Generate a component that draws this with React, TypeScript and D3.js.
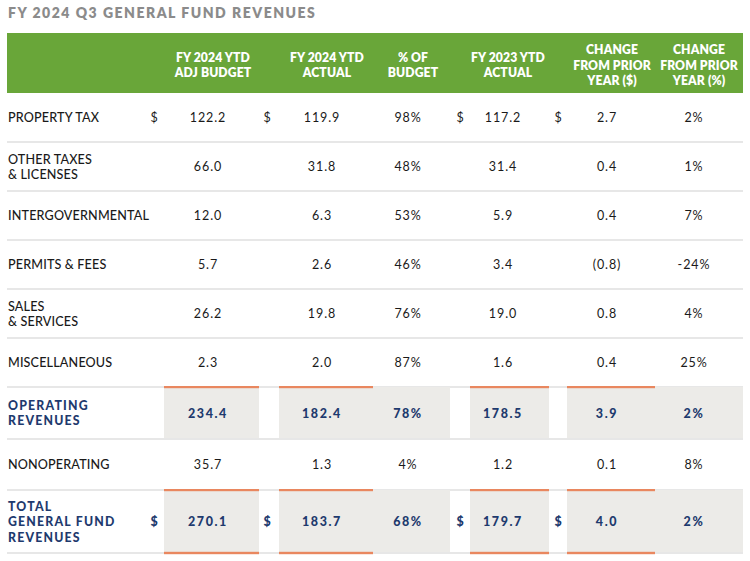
import React from "react";
import * as d3 from "d3";

const title = "FY 2024 Q3 GENERAL FUND REVENUES";
const columnKeys = ["budget", "actual", "pct", "fy23", "chgD", "chgP"];
const columnHeaders = [
  ["FY 2024 YTD", "ADJ BUDGET"],
  ["FY 2024 YTD", "ACTUAL"],
  ["% OF", "BUDGET"],
  ["FY 2023 YTD", "ACTUAL"],
  ["CHANGE", "FROM PRIOR", "YEAR ($)"],
  ["CHANGE", "FROM PRIOR", "YEAR (%)"],
];
const rowLabels = [
  ["PROPERTY TAX"],
  ["OTHER TAXES", "& LICENSES"],
  ["INTERGOVERNMENTAL"],
  ["PERMITS & FEES"],
  ["SALES", "& SERVICES"],
  ["MISCELLANEOUS"],
  ["OPERATING", "REVENUES"],
  ["NONOPERATING"],
  ["TOTAL", "GENERAL FUND", "REVENUES"],
];
const budget = ["122.2", "66.0", "12.0", "5.7", "26.2", "2.3", "234.4", "35.7", "270.1"];
const actual = ["119.9", "31.8", "6.3", "2.6", "19.8", "2.0", "182.4", "1.3", "183.7"];
const pctOfBudget = ["98%", "48%", "53%", "46%", "76%", "87%", "78%", "4%", "68%"];
const fy23Actual = ["117.2", "31.4", "5.9", "3.4", "19.0", "1.6", "178.5", "1.2", "179.7"];
const changeDollar = ["2.7", "0.4", "0.4", "(0.8)", "0.8", "0.4", "3.9", "0.1", "4.0"];
const changePct = ["2%", "1%", "7%", "-24%", "4%", "25%", "2%", "8%", "2%"];
const boldRows = [false, false, false, false, false, false, true, false, true];
const dollarRows = [true, false, false, false, false, false, false, false, true];
const dollarCols = ["budget", "actual", "fy23", "chgD"];

// layout
const LEFT = 7;
const RIGHT = 743;
const HEADER_TOP = 33;
const HEADER_BOTTOM = 93;
const rowBottoms = [142, 191, 240, 289, 338, 387, 439, 490, 553];
const cellX0 = { budget: 164, actual: 279, pct: 373, fy23: 470, chgD: 567, chgP: 655 };
const cellX1 = { budget: 259, actual: 373, pct: 450, fy23: 549, chgD: 655, chgP: 743 };
const valueCenters = { budget: 208, actual: 322, pct: 408, fy23: 503, chgD: 607, chgP: 694 };
const dollarX = { budget: 154, actual: 267, fy23: 460, chgD: 558 };
const orangeCols = ["budget", "actual", "fy23", "chgD"];

const GREEN = "#69a639";
const NAVY = "#1e3a6e";
const SHADE = "#ecebe8";
const ORANGE = "#e9875f";
const SEP = "#e7e7e7";
const TEXT = "#1a1a1a";
const FONT = "Lato, 'Open Sans', sans-serif";

export default function App() {
  const xCenter = d3.scaleOrdinal<string, number>()
    .domain(columnKeys)
    .range(columnKeys.map((k) => (valueCenters as any)[k]));
  const rowTops = [HEADER_BOTTOM, ...rowBottoms.slice(0, -1)];
  const yMid = d3.scaleOrdinal<number, number>()
    .domain(d3.range(rowLabels.length))
    .range(rowLabels.map((_, i) => (rowTops[i] + rowBottoms[i]) / 2));

  const seriesByKey: Record<string, string[]> = {
    budget, actual, pct: pctOfBudget, fy23: fy23Actual, chgD: changeDollar, chgP: changePct,
  };

  const headerMid = (HEADER_TOP + HEADER_BOTTOM) / 2 + 2;
  const lh = 15.3;

  return (
    <svg width={750} height={561} style={{ display: "block", position: "absolute", left: 0, top: 0, background: "#fff" }}>
      <text x={8} y={12} dominantBaseline="central" fill="#8b8b8b" fontFamily={FONT}
        fontWeight={800} fontSize={14} letterSpacing={1.5}>{title}</text>

      <rect x={LEFT} y={HEADER_TOP} width={RIGHT - LEFT} height={HEADER_BOTTOM - HEADER_TOP} fill={GREEN} />
      {columnHeaders.map((lines, ci) => {
        const cx = xCenter(columnKeys[ci]) + 5;
        return lines.map((ln, li) => (
          <text key={`h${ci}-${li}`} x={cx} y={headerMid + (li - (lines.length - 1) / 2) * lh}
            textAnchor="middle" dominantBaseline="central" fill="#fff" fontFamily={FONT}
            fontWeight={800} fontSize={12.2} letterSpacing={0.1}>{ln}</text>
        ));
      })}

      {rowLabels.map((lines, ri) => {
        const top = rowTops[ri];
        const bottom = rowBottoms[ri];
        const bold = boldRows[ri];
        const mid = yMid(ri);
        const color = bold ? NAVY : TEXT;
        return (
          <g key={`r${ri}`}>
            {bold && columnKeys.map((k) => {
              const x0 = (cellX0 as any)[k];
              const x1 = (cellX1 as any)[k];
              return <rect key={`s${k}`} x={x0} y={top} width={x1 - x0} height={bottom - top} fill={SHADE} />;
            })}
            <rect x={LEFT} y={bottom - 1} width={RIGHT - LEFT} height={2} fill={SEP} />
            {bold && orangeCols.map((k) => {
              const x0 = (cellX0 as any)[k];
              const x1 = (cellX1 as any)[k];
              return <rect key={`o${k}`} x={x0} y={top - 1} width={x1 - x0} height={2.2} fill={ORANGE} />;
            })}
            {bold && ri === rowLabels.length - 1 && orangeCols.map((k) => {
              const x0 = (cellX0 as any)[k];
              const x1 = (cellX1 as any)[k];
              return <rect key={`ob${k}`} x={x0} y={bottom - 1.2} width={x1 - x0} height={2.4} fill={ORANGE} />;
            })}
            {lines.map((ln, li) => (
              <text key={`l${li}`} x={8} y={mid + (li - (lines.length - 1) / 2) * (bold ? 15.5 : 15)}
                dominantBaseline="central" fill={color} fontFamily={FONT}
                fontWeight={bold ? 900 : 500} fontSize={bold ? 12.3 : 12.6}
                letterSpacing={bold ? 1.2 : 0.15}>{ln}</text>
            ))}
            {columnKeys.map((k) => (
              <text key={`v${k}`} x={xCenter(k)} y={mid} textAnchor="middle" dominantBaseline="central"
                fill={color} fontFamily={FONT} fontWeight={bold ? 900 : 400} fontSize={12.5}
                letterSpacing={bold ? 1.6 : 0.9}>{seriesByKey[k][ri]}</text>
            ))}
            {dollarRows[ri] && dollarCols.map((k) => (
              <text key={`d${k}`} x={(dollarX as any)[k]} y={mid} textAnchor="middle" dominantBaseline="central"
                fill={color} fontFamily={FONT} fontWeight={bold ? 900 : 400} fontSize={12.5}>$</text>
            ))}
          </g>
        );
      })}
    </svg>
  );
}
